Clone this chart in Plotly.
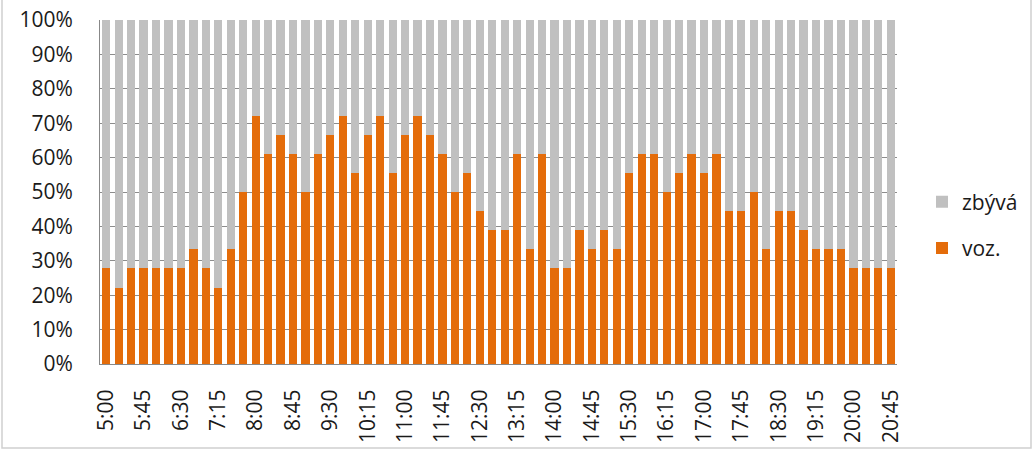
import plotly.graph_objects as go

times = []
for h in range(5, 21):
    for m in (0, 15, 30, 45):
        times.append(f"{h}:{m:02d}")

voz = [27.8, 22.2, 27.8, 27.8, 27.8, 27.8, 27.8, 33.3, 27.8, 22.2, 33.3, 50.0,
       72.2, 61.1, 66.7, 61.1, 50.0, 61.1, 66.7, 72.2, 55.6, 66.7, 72.2, 55.6,
       66.7, 72.2, 66.7, 61.1, 50.0, 55.6, 44.4, 38.9, 38.9, 61.1, 33.3, 61.1,
       27.8, 27.8, 38.9, 33.3, 38.9, 33.3, 55.6, 61.1, 61.1, 50.0, 55.6, 61.1,
       55.6, 61.1, 44.4, 44.4, 50.0, 33.3, 44.4, 44.4, 38.9, 33.3, 33.3, 33.3,
       27.8, 27.8, 27.8, 27.8]
zbyva = [round(100 - v, 1) for v in voz]

tick_labels = times[::3]
y_ticks = list(range(0, 101, 10))

FONT = "Open Sans"
FS = 21

fig = go.Figure()
fig.add_trace(go.Bar(x=times, y=[v / 100 for v in voz], name="voz.",
                     marker=dict(color="#E46C0A", line=dict(width=0)),
                     legendgroup="a", legendrank=2))
fig.add_trace(go.Bar(x=times, y=[v / 100 for v in zbyva], name="zbývá",
                     marker=dict(color="#C0C0C0", line=dict(width=0)),
                     legendgroup="b", legendrank=1))

W, H = 1034, 451
L, R, T, B = 100, 137, 20, 87
pw, ph = W - L - R, H - T - B

def px_x(x):
    return (x - L) / pw

def px_y(y):
    return (H - B - y) / ph

fig.update_layout(
    width=W, height=H,
    margin=dict(l=L, r=R, t=T, b=B, pad=0, autoexpand=False),
    barmode="stack",
    bargap=0.34,
    plot_bgcolor="white",
    paper_bgcolor="white",
    font=dict(family=FONT, size=FS, color="#1a1a1a"),
    showlegend=True,
    legend=dict(x=px_x(922), y=px_y(225), xanchor="left", yanchor="middle",
                traceorder="grouped",
                font=dict(size=FS, color="#1a1a1a"), tracegroupgap=16,
                itemwidth=30, bgcolor="rgba(0,0,0,0)"),
    xaxis=dict(type="category", tickmode="array", tickvals=tick_labels,
               ticktext=tick_labels, tickangle=-90, showgrid=False,
               showline=True, linecolor="#888888", linewidth=1, ticks="",
               ticklabelstandoff=16, automargin=False,
               tickfont=dict(size=FS, family=FONT, color="#1a1a1a")),
    yaxis=dict(range=[0, 1], tickmode="array", tickvals=[t / 100 for t in y_ticks],
               ticktext=[f"{t}%" for t in y_ticks], showgrid=True,
               gridcolor="#8c8c8c", gridwidth=1, showline=True,
               linecolor="#888888", linewidth=1, ticks="", ticklen=0,
               ticklabelstandoff=22, automargin=False,
               tickfont=dict(size=FS, family=FONT, color="#1a1a1a"),
               zeroline=False),
    shapes=[dict(type="rect", xref="paper", yref="paper",
                 x0=px_x(2), x1=px_x(1031), y0=px_y(448), y1=px_y(-5),
                 line=dict(color="#d0d0d0", width=1.5), fillcolor="rgba(0,0,0,0)",
                 layer="below")],
)

fig.write_html("out.html")
